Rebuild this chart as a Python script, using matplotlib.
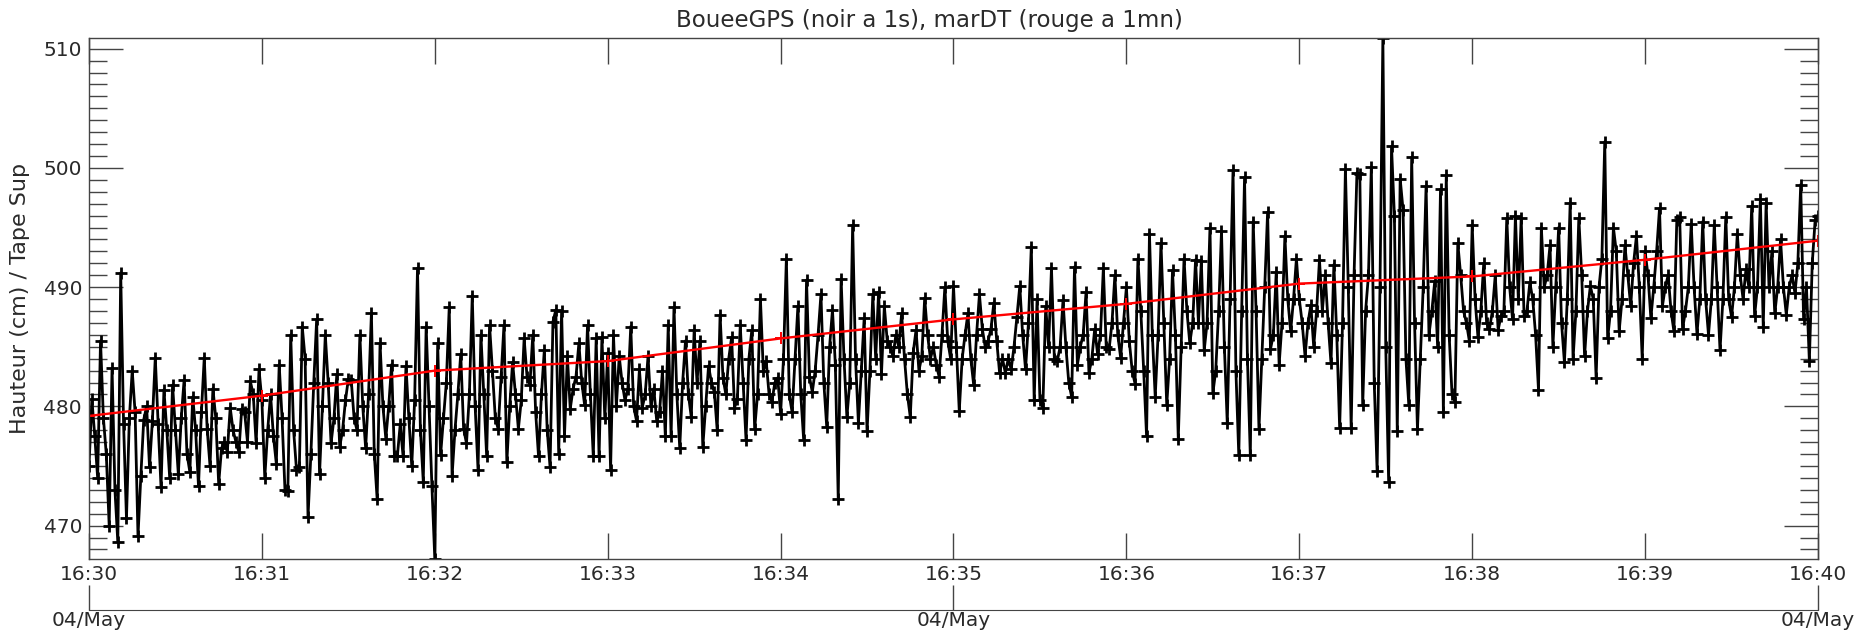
import matplotlib
matplotlib.use('Agg')
import matplotlib.pyplot as plt
from matplotlib.ticker import MultipleLocator, NullLocator

# BoueeGPS : un point par seconde, de 16:30:00 a 16:40:00 (601 points)
hauteur_1s = [
    475.0, 480.6, 477.5, 474.0, 485.5, 479.0, 476.0, 470.0, 483.2, 473.0,
    468.6, 491.2, 478.5, 470.6, 479.0, 483.0, 479.5, 469.1, 474.2, 478.9,
    480.0, 474.9, 478.8, 484.1, 478.5, 473.2, 481.4, 478.0, 474.0, 481.8,
    478.0, 474.3, 479.0, 482.2, 476.0, 474.5, 480.8, 478.0, 473.3, 479.5,
    484.1, 478.1, 475.0, 481.5, 479.0, 473.5, 476.5, 477.0, 476.2, 479.9,
    478.0, 477.0, 476.2, 479.8, 479.5, 477.0, 482.1, 481.0, 476.9, 483.1,
    # 16:31
    480.5, 474.0, 478.0, 481.0, 477.5, 475.2, 483.5, 479.0, 473.0, 472.9,
    486.0, 478.0, 474.7, 474.9, 486.7, 484.0, 470.7, 476.0, 482.0, 487.3,
    474.3, 480.0, 486.0, 482.0, 476.9, 479.0, 482.7, 476.6, 478.0, 480.5,
    482.3, 482.2, 479.0, 478.0, 486.0, 480.0, 476.5, 481.0, 487.8, 476.0,
    472.2, 485.3, 480.0, 477.3, 480.0, 483.5, 475.8, 475.8, 478.5, 475.8,
    483.4, 479.0, 475.0, 480.5, 491.6, 478.0, 473.7, 486.7, 480.0, 473.3,
    # 16:32
    467.2, 485.3, 475.9, 479.0, 482.0, 488.3, 474.2, 478.0, 481.0, 484.4,
    478.1, 476.9, 481.0, 489.3, 480.0, 474.7, 486.0, 481.0, 475.8, 486.8,
    483.0, 479.0, 478.1, 482.5, 486.8, 475.3, 480.0, 483.7, 481.0, 478.1,
    480.5, 485.7, 482.5, 481.8, 486.0, 479.5, 475.8, 481.0, 484.7, 478.0,
    474.9, 487.1, 488.1, 476.0, 488.0, 477.5, 484.2, 479.8, 481.5, 482.5,
    485.3, 482.0, 480.1, 486.8, 481.0, 475.8, 485.7, 475.8, 485.8, 479.0,
    # 16:33
    484.5, 474.7, 486.0, 480.0, 484.2, 482.0, 480.5, 481.5, 486.7, 480.0,
    478.8, 483.1, 479.9, 481.0, 484.2, 480.0, 481.5, 478.8, 479.5, 483.0,
    477.5, 486.8, 477.5, 488.3, 481.0, 476.5, 482.0, 485.5, 481.0, 479.1,
    486.4, 482.0, 485.5, 476.6, 480.0, 483.4, 482.0, 481.2, 478.0, 487.7,
    482.4, 481.0, 484.0, 485.8, 479.9, 480.6, 486.8, 482.0, 477.2, 484.0,
    486.4, 478.1, 481.0, 489.0, 483.0, 483.8, 481.0, 480.4, 482.0, 482.4,
    # 16:34
    479.4, 484.0, 492.4, 481.0, 479.5, 484.0, 488.4, 481.0, 477.2, 490.6,
    482.5, 481.2, 483.0, 486.0, 489.4, 482.0, 478.3, 485.0, 488.1, 483.5,
    472.2, 490.7, 484.0, 479.1, 482.0, 495.2, 484.0, 478.6, 483.0, 487.4,
    477.9, 483.0, 489.4, 484.0, 489.6, 482.7, 488.4, 485.5, 485.0, 484.2,
    486.0, 485.0, 487.8, 484.0, 481.0, 479.1, 484.5, 486.4, 483.0, 484.2,
    489.1, 486.0, 484.0, 485.0, 483.5, 482.5, 486.0, 490.0, 485.5, 484.0,
    # 16:35
    490.1, 485.0, 479.6, 484.0, 486.0, 487.8, 484.0, 481.8, 486.0, 489.4,
    486.5, 485.0, 485.5, 486.5, 488.7, 485.5, 482.8, 484.0, 482.8, 484.0,
    483.1, 485.0, 487.5, 490.1, 486.0, 483.1, 487.0, 493.4, 480.5, 489.0,
    480.5, 479.9, 488.4, 485.0, 491.6, 484.0, 483.8, 485.0, 488.9, 485.0,
    482.0, 480.8, 491.7, 483.5, 485.0, 486.0, 489.6, 482.8, 484.0, 486.5,
    484.4, 486.0, 491.6, 485.0, 484.8, 487.0, 491.0, 486.0, 484.1, 487.0,
    # 16:36
    490.0, 485.5, 483.0, 481.9, 492.4, 488.0, 483.0, 477.5, 494.5, 486.0,
    480.8, 486.0, 493.7, 487.0, 480.1, 484.0, 491.4, 486.0, 477.3, 485.0,
    492.4, 488.0, 485.3, 487.0, 492.3, 487.0, 492.2, 484.7, 487.0, 495.0,
    481.1, 483.0, 488.0, 494.7, 485.0, 478.6, 489.0, 499.8, 483.0, 475.9,
    488.0, 499.2, 484.0, 475.9, 495.5, 488.0, 478.1, 484.0, 490.0, 496.3,
    484.8, 486.0, 491.3, 483.5, 487.0, 494.3, 489.0, 486.3, 489.0, 492.4,
    # 16:37
    489.0, 487.0, 484.2, 487.0, 488.5, 485.0, 488.0, 492.3, 488.0, 491.0,
    487.0, 483.6, 491.9, 486.0, 478.2, 487.0, 499.9, 490.0, 478.2, 491.0,
    499.6, 499.5, 480.1, 488.0, 491.0, 500.1, 482.0, 474.6, 490.0, 510.9,
    485.0, 473.7, 501.8, 496.0, 477.9, 499.1, 496.5, 484.0, 480.1, 500.9,
    487.0, 478.1, 484.0, 490.0, 498.5, 486.0, 488.0, 490.5, 485.0, 498.2,
    479.5, 499.4, 486.0, 481.0, 480.4, 493.7, 491.0, 488.0, 487.0, 485.5,
    # 16:38
    495.2, 489.0, 485.8, 488.0, 492.0, 487.0, 486.5, 488.0, 491.0, 486.4,
    487.6, 488.0, 495.8, 490.0, 487.3, 496.0, 489.0, 495.8, 487.6, 488.0,
    490.4, 489.0, 486.0, 481.4, 495.0, 490.0, 491.0, 493.5, 485.0, 490.0,
    495.0, 487.0, 483.7, 489.0, 497.1, 484.0, 488.0, 495.8, 491.0, 484.2,
    488.0, 490.1, 489.0, 482.4, 490.0, 492.4, 502.2, 485.7, 488.0, 495.0,
    493.0, 486.3, 489.0, 493.5, 491.0, 488.4, 492.0, 494.3, 490.0, 484.0,
    # 16:39
    493.0, 491.0, 487.4, 490.0, 493.0, 496.6, 488.4, 490.0, 491.0, 488.0,
    486.3, 495.6, 495.9, 486.5, 488.0, 490.0, 495.3, 490.0, 486.1, 489.0,
    495.5, 489.0, 486.0, 489.0, 495.2, 490.0, 484.7, 489.0, 495.9, 489.0,
    487.5, 490.0, 494.5, 491.0, 489.0, 491.5, 490.0, 496.8, 487.6, 490.0,
    497.4, 486.7, 497.1, 490.0, 493.0, 487.8, 490.0, 494.0, 490.0, 487.7,
    490.0, 491.0, 489.5, 492.0, 498.6, 487.3, 490.0, 483.8, 492.0, 495.6,
    # 16:40
    496.0,
]

# marDT : un point par minute
hauteur_1mn = [479.2, 480.9, 483.0, 483.8, 485.7, 487.3, 488.6, 490.3, 490.9, 492.3, 493.9]

heures = ['16:30', '16:31', '16:32', '16:33', '16:34', '16:35',
          '16:36', '16:37', '16:38', '16:39', '16:40']
dates_sec = [0, 300, 600]
dates_lab = ['04/May', '04/May', '04/May']

t_1s = list(range(len(hauteur_1s)))
t_1mn = [60 * i for i in range(len(hauteur_1mn))]

W, H = 1858, 634
gris = '#444444'
texte = '#2a2a2a'
fig = plt.figure(figsize=(W / 100, H / 100), dpi=100)
ax = fig.add_axes([89 / W, 1 - 559 / H, (1818 - 89) / W, (559 - 38) / H])

ax.plot(t_1s, hauteur_1s, color='black', lw=2.0, marker='+', ms=9, mew=2.0)
ax.plot(t_1mn, hauteur_1mn, color='red', lw=1.7, marker='+', ms=8, mew=1.4)

ax.set_xlim(0, 600)
ax.set_ylim(min(hauteur_1s), max(hauteur_1s))

for s in ax.spines.values():
    s.set_color(gris)
    s.set_linewidth(1.0)

ax.set_xticks(t_1mn, heures)
ax.xaxis.set_minor_locator(NullLocator())
ax.tick_params(axis='x', direction='in', top=True, length=19, width=1,
               color=gris, labelsize=14.5, labelcolor=texte, pad=4)
ax.yaxis.set_major_locator(MultipleLocator(10))
ax.yaxis.set_minor_locator(MultipleLocator(1))
ax.tick_params(axis='y', which='major', direction='in', right=True, length=24.5,
               width=1, color=gris, labelsize=14.5, labelcolor=texte, pad=5)
ax.tick_params(axis='y', which='minor', direction='in', right=True, length=13,
               width=1, color=gris)

ax.set_ylabel('Hauteur (cm) / Tape Sup', fontsize=16, color=texte)
ax.yaxis.set_label_coords(-0.034, 0.5)

# axe des dates sous l'axe des heures
sec = ax.secondary_xaxis(-0.098)
sec.set_xticks(dates_sec, dates_lab)
sec.tick_params(direction='in', length=18, width=1, color=gris,
                labelsize=14.5, labelcolor=texte, pad=1)
sec.spines['bottom'].set_color(gris)

fig.text(0.5, 1 - 21 / H, 'BoueeGPS (noir a 1s), marDT (rouge a 1mn)',
         ha='center', va='center', fontsize=16.5, color=texte)

fig.savefig('out.png', dpi=100)
